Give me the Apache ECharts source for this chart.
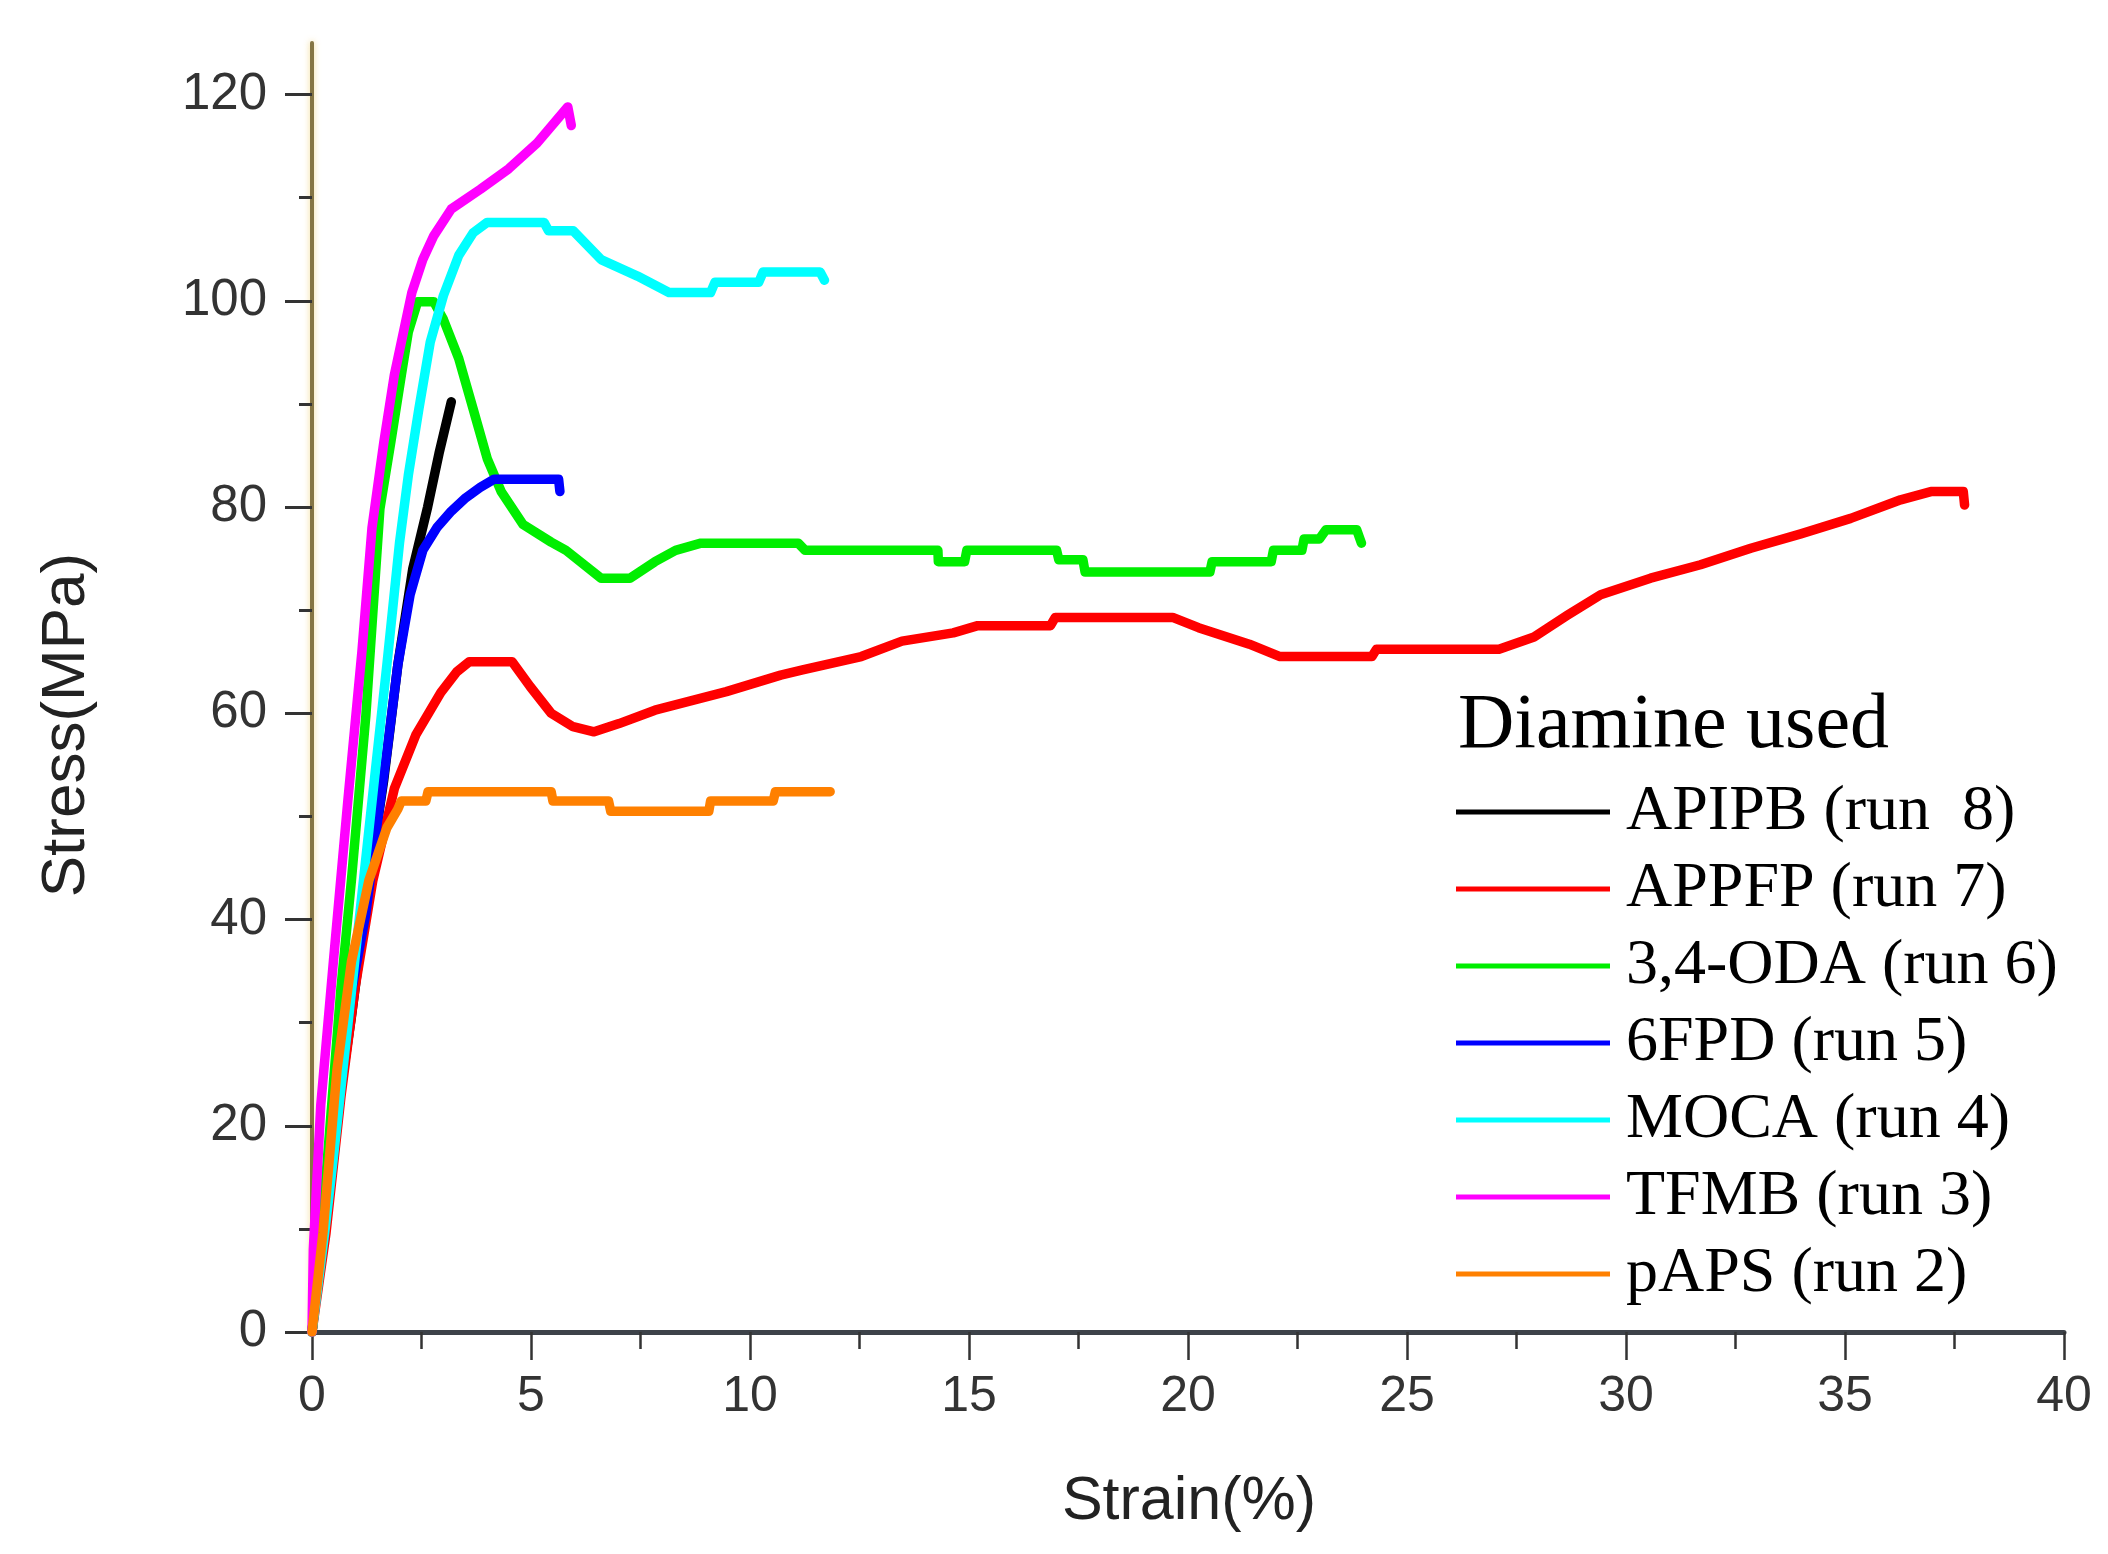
<!DOCTYPE html>
<html>
<head>
<meta charset="utf-8">
<script src="https://cdn.jsdelivr.net/npm/echarts@6/dist/echarts.min.js"></script>
<style>
html,body{margin:0;padding:0;background:#fff;}
#chart{width:2108px;height:1554px;}
</style>
</head>
<body>
<div id="chart"></div>
<script>
// ---- Data (strain %, stress MPa) ----
const seriesNames = ['APIPB (run  8)', 'APPFP (run 7)', '3,4-ODA (run 6)', '6FPD (run 5)', 'MOCA (run 4)', 'TFMB (run 3)', 'pAPS (run 2)'];
const seriesColors = ['#000000', '#ff0000', '#00ee00', '#0000ff', '#00ffff', '#ff00ff', '#ff8000'];

const apipb = [[0,0],[0.4,16],[0.9,30.6],[1.3,43.8],[1.64,53.6],[1.96,64.7],[2.3,74],[2.64,80],[2.9,85.2],[3.18,90.2]];

const appfp = [[0,0],[0.32,9.6],[0.66,22.8],[0.98,33.3],[1.39,43.8],[1.88,52.7],[2.37,57.9],[2.94,62],[3.3,64],[3.59,65],[4.57,65],[4.98,62.6],[5.46,60],[5.96,58.7],[6.44,58.2],[7.01,59],[7.83,60.3],[9.46,62.1],[10.7,63.7],[11.2,64.2],[12.54,65.5],[13.47,67],[14.64,67.8],[15.2,68.5],[16.86,68.5],[16.97,69.3],[19.65,69.3],[20.24,68.3],[21.4,66.7],[22.1,65.5],[24.2,65.5],[24.3,66.2],[27.1,66.2],[27.9,67.4],[28.66,69.5],[29.42,71.5],[30.56,73.1],[31.7,74.4],[32.85,76],[33.99,77.4],[35.13,78.9],[36.27,80.7],[36.96,81.5],[37.7,81.5],[37.73,80.2]];

const oda34 = [[0,0],[0.3,14],[0.66,33.3],[0.9,43.8],[1.23,59.8],[1.55,79.8],[1.8,86.3],[2.04,92.8],[2.2,97],[2.41,99.9],[2.78,99.9],[3.0,98.2],[3.35,94.4],[3.68,89.5],[4.0,84.7],[4.32,81.5],[4.82,78.3],[5.46,76.6],[5.8,75.8],[6.6,73.1],[7.26,73.1],[7.83,74.7],[8.3,75.8],[8.88,76.5],[11.1,76.5],[11.26,75.8],[14.29,75.8],[14.3,74.7],[14.9,74.7],[14.95,75.8],[17.0,75.8],[17.05,74.9],[17.6,74.9],[17.65,73.7],[20.5,73.7],[20.55,74.7],[21.9,74.7],[21.95,75.8],[22.6,75.8],[22.65,76.9],[23.0,76.9],[23.15,77.8],[23.85,77.8],[23.96,76.5]];

const fpd6 = [[0,0],[0.4,15],[0.9,33],[1.23,40.6],[1.46,48.4],[1.71,56.2],[1.96,64.7],[2.24,71.5],[2.53,75.8],[2.85,78],[3.18,79.6],[3.51,80.9],[3.84,81.9],[4.16,82.7],[5.63,82.7],[5.66,81.5]];

const moca = [[0,0],[0.3,10],[0.49,17],[0.9,33],[1.3,48.7],[1.71,64.7],[2.0,76.6],[2.2,83.1],[2.44,89.5],[2.7,96],[3.0,100.5],[3.35,104.4],[3.68,106.6],[4.0,107.6],[5.3,107.6],[5.4,106.8],[5.96,106.8],[6.6,104],[7.43,102.4],[8.15,100.8],[9.1,100.8],[9.2,101.8],[10.2,101.8],[10.3,102.8],[11.6,102.8],[11.7,102]];

const tfmb = [[0,0],[0.03,8],[0.2,22],[0.49,36],[0.82,51.6],[1.14,66],[1.37,78],[1.64,86.3],[1.88,92.8],[2.12,97.6],[2.28,100.8],[2.53,104],[2.78,106.3],[3.18,108.9],[3.84,110.8],[4.49,112.8],[5.14,115.3],[5.84,118.8],[5.92,117]];

const paps = [[0,0],[0.25,9.6],[0.57,25.4],[0.9,35.9],[1.3,43.8],[1.71,48.9],[1.96,50.7],[2.04,51.5],[2.6,51.5],[2.65,52.4],[5.46,52.4],[5.5,51.5],[6.77,51.5],[6.82,50.5],[9.06,50.5],[9.1,51.5],[10.53,51.5],[10.58,52.4],[11.83,52.4]];

const allData = [apipb, appfp, oda34, fpd6, moca, tfmb, paps];

const yMajorTicks = [0, 20, 40, 60, 80, 100, 120];
const yMinorTicks = [10, 30, 50, 70, 90, 110];
const xTitle = 'Strain(%)';
const yTitle = 'Stress(MPa)';
const legendTitle = 'Diamine used';

const chart = echarts.init(document.getElementById('chart'), null, {renderer: 'canvas'});

const series = allData.map((d, i) => ({
  name: seriesNames[i],
  type: 'line',
  data: d,
  showSymbol: false,
  symbol: 'none',
  smooth: false,
  color: seriesColors[i],
  lineStyle: {width: 9.5, color: seriesColors[i], cap: 'round', join: 'round'},
  z: 2 + i
}));

chart.setOption({
  animation: false,
  backgroundColor: '#ffffff',
  grid: {left: 312, right: 44, top: 43, bottom: 222, containLabel: false},
  xAxis: {
    type: 'value', min: 0, max: 40, interval: 5,
    axisLine: {show: true, onZero: false, lineStyle: {color: '#3d4249', width: 5}},
    axisTick: {show: true, length: 28, lineStyle: {color: '#333', width: 2.5}},
    minorTick: {show: true, splitNumber: 2, length: 17, lineStyle: {color: '#333', width: 2.5}},
    axisLabel: {margin: 40, fontFamily: 'Liberation Sans', fontSize: 50, color: '#333'},
    splitLine: {show: false}
  },
  yAxis: [{
    type: 'value', min: 0, max: 125, interval: 20, position: 'left',
    axisLine: {show: true, onZero: false, lineStyle: {color: '#857544', width: 4, shadowColor: 'rgba(240,210,120,0.8)', shadowBlur: 6}},
    axisTick: {show: true, length: 27, customValues: yMajorTicks, lineStyle: {color: '#333', width: 3}},
    axisLabel: {margin: 45, customValues: yMajorTicks, fontFamily: 'Liberation Sans', fontSize: 51, color: '#333'},
    splitLine: {show: false}
  }, {
    type: 'value', min: 0, max: 125, interval: 10, position: 'left',
    axisLine: {show: false},
    axisTick: {show: true, length: 13, customValues: yMinorTicks, lineStyle: {color: '#333', width: 3}},
    axisLabel: {show: false},
    splitLine: {show: false}
  }],
  legend: {
    orient: 'vertical', left: 1451, top: 775,
    itemWidth: 154, itemHeight: 5, itemGap: 13,
    icon: 'rect',
    selectedMode: false,
    textStyle: {fontFamily: 'Liberation Serif', fontSize: 64, color: '#000', lineHeight: 64, padding: [0, 0, 0, 11]},
    data: seriesNames
  },
  graphic: [
    {type: 'text', x: 1458, y: 727, style: {text: legendTitle, font: '78px "Liberation Serif"', fill: '#000', verticalAlign: 'middle', align: 'left'}},
    {type: 'text', x: 1189, y: 1502, style: {text: xTitle, font: '61px "Liberation Sans"', fill: '#222', verticalAlign: 'middle', align: 'center'}},
    {type: 'text', x: 67, y: 725, rotation: Math.PI / 2, style: {text: yTitle, font: '62px "Liberation Sans"', fill: '#222', verticalAlign: 'middle', align: 'center'}}
  ],
  series: series
});
</script>
</body>
</html>
